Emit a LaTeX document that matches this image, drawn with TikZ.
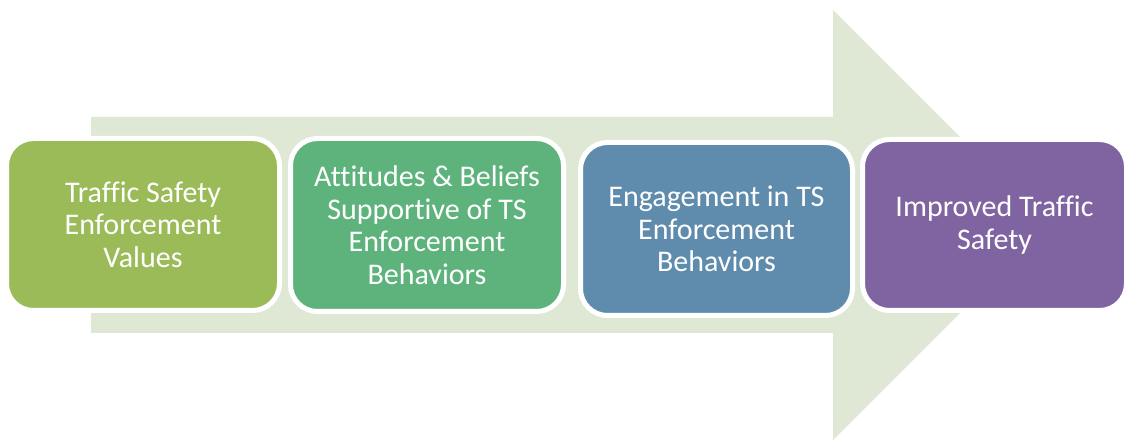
\documentclass[tikz,border=0pt]{standalone}
\usepackage{fontspec}
\setmainfont{Carlito}[Ligatures={NoCommon}]
\definecolor{arrowbg}{RGB}{223,232,212}
\definecolor{stepA}{RGB}{155,187,89}
\definecolor{stepB}{RGB}{94,179,125}
\definecolor{stepC}{RGB}{95,140,173}
\definecolor{stepD}{RGB}{128,100,162}
\tikzset{
  stagebox/.style={rounded corners=27pt, draw=white, line width=5pt,
    align=center, text=white, inner sep=0pt,
    font=\fontsize{30}{32.5}\selectfont},
}
\begin{document}
\begin{tikzpicture}[x=1pt,y=1pt]
\useasboundingbox (0,0) rectangle (1125,442);
% background arrow
\fill[arrowbg] (91,325) -- (833,325) -- (833,432) -- (1048,217)
  -- (833,2) -- (833,109) -- (91,109) -- cycle;
% stages
\node[stagebox, fill=stepA, minimum width=273pt, minimum height=172pt]
  (values) at (143,217.5) {Traffic Safety\\Enforcement\\Values};
\node[stagebox, fill=stepB, minimum width=273pt, minimum height=173pt]
  (attitudes) at (427,217) {Attitudes \& Beliefs\\Supportive of TS\\Enforcement\\Behaviors};
\node[stagebox, fill=stepC, minimum width=272pt, minimum height=173pt]
  (engagement) at (716.5,213) {Engagement in TS\\Enforcement\\Behaviors};
\node[stagebox, fill=stepD, minimum width=264pt, minimum height=171pt]
  (safety) at (994.5,217) {Improved Traffic\\Safety};
\end{tikzpicture}
\end{document}
